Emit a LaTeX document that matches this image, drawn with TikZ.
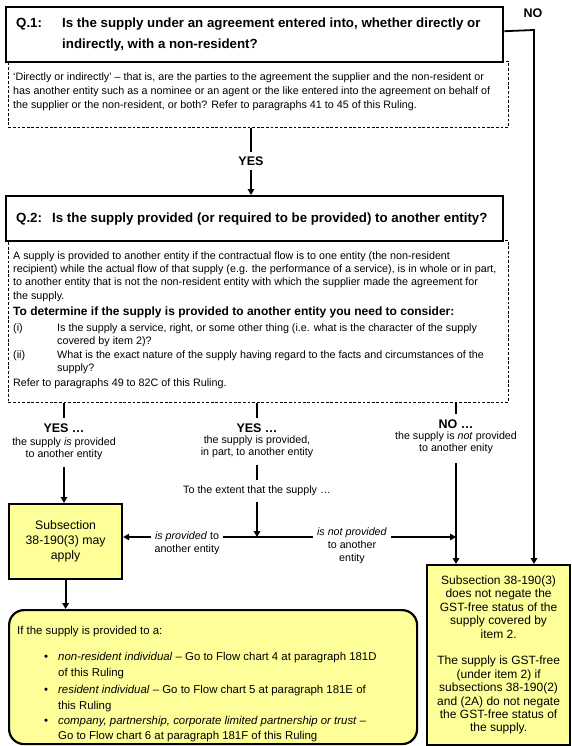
\documentclass[tikz,border=0pt]{standalone}
\usepackage{fontspec}
\setmainfont{Liberation Sans}
\usetikzlibrary{arrows.meta}
\definecolor{ylw}{RGB}{255,255,153}
\begin{document}
\begin{tikzpicture}[x=1pt,y=-1pt,
  qbox/.style={draw, line width=2.4pt, inner sep=0pt, anchor=north west, fill=white},
  dbox/.style={draw, dash pattern=on 2.8pt off 1.8pt, line width=0.7pt, inner sep=0pt, anchor=north west},
  ybox/.style={draw, fill=ylw, line width=2.2pt, inner sep=0pt, anchor=north west},
  ln/.style={inner sep=0pt, anchor=base west, font=\fontsize{10.75}{12}\selectfont},
  lnb/.style={ln, font=\fontsize{12}{13}\selectfont\bfseries},
  hd/.style={inner sep=0pt, anchor=base west, font=\fontsize{13.3}{15}\selectfont\bfseries},
  bh/.style={inner sep=5pt, font=\fontsize{12.5}{13}\selectfont\bfseries},
  sb/.style={inner sep=0pt, font=\fontsize{10.7}{12}\selectfont},
  lbl/.style={inner sep=4pt, align=center, fill=white, font=\fontsize{10.7}{13}\selectfont},
  rl/.style={inner sep=0pt, anchor=base west, font=\fontsize{11.4}{13}\selectfont},
  conn/.style={line width=1.8pt},
  arr/.style={conn, -{Triangle[length=6pt,width=6.5pt]}},
]
\fill[white] (0,0) rectangle (571,746);
\useasboundingbox (0,0) rectangle (571,746);

% ---------- Q1 ----------
\node[dbox, minimum width=500pt, minimum height=66pt] (d1) at (8,61) {};
\node[qbox, minimum width=497pt, minimum height=55pt] (q1) at (5,6) {};
\node[hd] (q1a) at (16,28) {Q.1:};
\node[hd] (q1b) at (62,28) {Is the supply under an agreement entered into, whether directly or};
\node[hd] (q1c) at (62,49) {indirectly, with a non-resident?};
\node[ln] (d1a) at (13,81) {`Directly or indirectly' -- that is, are the parties to the agreement the supplier and the non-resident or};
\node[ln] (d1b) at (13,95) {has another entity such as a nominee or an agent or the like entered into the agreement on behalf of};
\node[ln] (d1c) at (13,109) {the supplier or the non-resident, or both? Refer to paragraphs 41 to 45 of this Ruling.};

% NO label
\node[font=\fontsize{12.5}{13}\selectfont\bfseries, inner sep=0pt] (nol) at (533,13) {NO};

% ---------- YES ----------
\node[font=\fontsize{12.5}{13}\selectfont\bfseries, inner sep=4pt] (yes1) at (251,161) {YES};

% ---------- Q2 ----------
\node[dbox, minimum width=500pt, minimum height=162pt] (d2) at (8,240) {};
\node[qbox, minimum width=497pt, minimum height=45pt] (q2) at (5,195) {};
\node[hd] (q2a) at (16,222.5) {Q.2:};
\node[hd] (q2b) at (52,222.5) {Is the supply provided (or required to be provided) to another entity?};
\node[ln] (d2a) at (13,259) {A supply is provided to another entity if the contractual flow is to one entity (the non-resident};
\node[ln] (d2b) at (13,272) {recipient) while the actual flow of that supply (e.g. the performance of a service), is in whole or in part,};
\node[ln] (d2c) at (13,285.5) {to another entity that is not the non-resident entity with which the supplier made the agreement for};
\node[ln] (d2d) at (13,299) {the supply.};
\node[lnb] (d2e) at (13,315) {To determine if the supply is provided to another entity you need to consider:};
\node[ln] (d2f0) at (13,331) {(i)};
\node[ln] (d2f) at (57,331) {Is the supply a service, right, or some other thing (i.e. what is the character of the supply};
\node[ln] (d2g) at (57,344) {covered by item 2)?};
\node[ln] (d2h0) at (13,358) {(ii)};
\node[ln] (d2h) at (57,358) {What is the exact nature of the supply having regard to the facts and circumstances of the};
\node[ln] (d2i) at (57,371) {supply?};
\node[ln] (d2j) at (13,386) {Refer to paragraphs 49 to 82C of this Ruling.};

% ---------- branch labels ----------
\node[bh] (yl) at (64,428) {YES \ldots};
\node[sb] (yl1) at (64,443) {the supply \textit{is} provided};
\node[sb] (yl2) at (64,455) {to another entity};
\node[bh] (ym) at (257,428) {YES \ldots};
\node[sb] (ym1) at (257,441) {the supply is provided,};
\node[sb] (ym2) at (257,453) {in part, to another entity};
\node[sb] (ext) at (257,491) {To the extent that the supply \ldots};
\node[bh] (nb) at (456,424) {NO \ldots};
\node[sb] (nb1) at (456,437) {the supply is \textit{not} provided};
\node[sb] (nb2) at (456,449) {to another enity};

% ---------- outcome boxes ----------
\node[ybox, minimum width=113pt, minimum height=75pt] (lb) at (8,503) {};
\node[align=center, inner sep=0pt, font=\fontsize{12.3}{15}\selectfont] (lbt) at (lb.center) {Subsection\\38-190(3) may\\apply};

\node[ybox, minimum width=143pt, minimum height=180pt] (rbox) at (426,564) {};
\node[align=center, inner sep=0pt, font=\fontsize{12}{13.4}\selectfont] (rbt) at (rbox.center) {Subsection 38-190(3)\\does not negate the\\GST-free status of the\\supply covered by\\item 2.\\[13.4pt]The supply is GST-free\\(under item 2) if\\subsections 38-190(2)\\and (2A) do not negate\\the GST-free status of\\the supply.};

\node[ybox, rounded corners=15pt, minimum width=408pt, minimum height=134pt] (rb) at (8,609) {};
\node[rl] (r0) at (17,634) {If the supply is provided to a:};
\node[rl] (b1) at (44,660.5) {\textbullet};
\node[rl] (r1) at (58,660.5) {\textit{non-resident individual} -- Go to Flow chart 4 at paragraph 181D};
\node[rl] (r2) at (58,676.5) {of this Ruling};
\node[rl] (b2) at (44,693) {\textbullet};
\node[rl] (r3) at (58,693) {\textit{resident individual} -- Go to Flow chart 5 at paragraph 181E of};
\node[rl] (r4) at (58,709) {this Ruling};
\node[rl] (b3) at (44,724.5) {\textbullet};
\node[rl] (r5) at (58,724.5) {\textit{company, partnership, corporate limited partnership or trust} --};
\node[rl] (r6) at (58,739.5) {Go to Flow chart 6 at paragraph 181F of this Ruling};

% ---------- connectors ----------
\coordinate (nt) at (534,30);
\draw[arr] ([yshift=3.5pt]q1.east) -- (nt) -- (nt |- rbox.north);

\draw[conn] (yes1 |- d1.south) -- (yes1.north);
\draw[arr] (yes1.south) -- (yes1 |- q2.north);

\draw[conn] (yl.north |- d2.south) -- (yl.north);
\draw[arr] ([yshift=-7pt]yl2.south) -- (yl2 |- lb.north);

\draw[conn] (ym.north |- d2.south) -- (ym.north);
\draw[conn] ([yshift=-7pt]ym2.south) -- ([yshift=6pt]ext.north);
\coordinate (jn) at (257,537);
\draw[arr] ([yshift=-6pt]ext.south) -- (jn);

\draw[conn] (nb.north |- d2.south) -- (nb.north);
\draw[arr] ([yshift=-9pt]nb2.south) -- (nb2 |- rbox.north);

\draw[arr] (jn) -- (jn -| lb.east);
\draw[arr] (jn) -- (jn -| nb2);
\node[lbl] (ip) at (187,543) {\textit{is provided} to\\another entity};
\node[lbl] (inp) at (352,546) {\textit{is not provided}\\to another\\entity};

\draw[arr] (lb.south) -- (lb.south |- rb.north);
\end{tikzpicture}
\end{document}
